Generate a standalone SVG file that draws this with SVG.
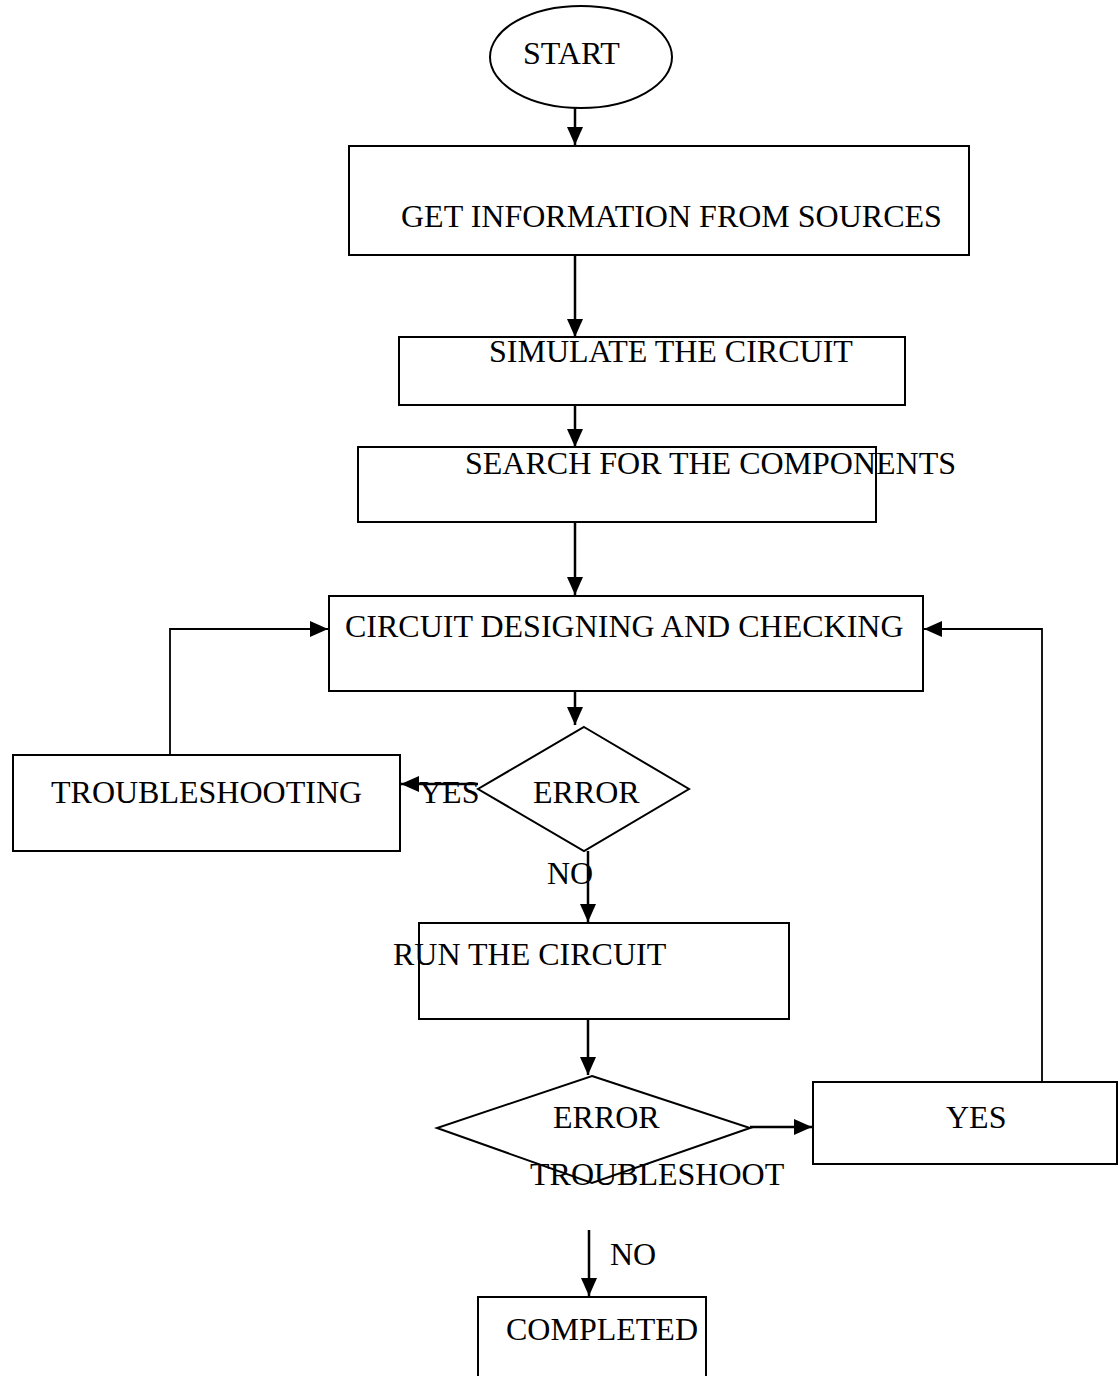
<svg xmlns="http://www.w3.org/2000/svg" width="1118" height="1376" viewBox="0 0 1118 1376">
<style>
.box{fill:#fff;stroke:#000;stroke-width:2}
.lbl{font-family:"Liberation Serif","Times New Roman",serif;font-size:32px;fill:#000}
.con{fill:none;stroke:#000;stroke-width:2.5}
.thin{fill:none;stroke:#000;stroke-width:1.8}
</style>
<defs>
<marker id="ah" markerUnits="userSpaceOnUse" markerWidth="20" markerHeight="20" refX="18" refY="10" orient="auto" overflow="visible">
<path d="M0,2 L18,10 L0,18 z" fill="#000"/>
</marker>
</defs>
<rect width="1118" height="1376" fill="#fff"/>
<g id="connectors">
<line class="con" x1="575" y1="108" x2="575" y2="145" marker-end="url(#ah)"/>
<line class="con" x1="575" y1="255" x2="575" y2="337" marker-end="url(#ah)"/>
<line class="con" x1="575" y1="405" x2="575" y2="447" marker-end="url(#ah)"/>
<line class="con" x1="575" y1="522" x2="575" y2="595" marker-end="url(#ah)"/>
<polyline class="thin" points="170,755 170,629 328,629" marker-end="url(#ah)"/>
<polyline class="thin" points="1042,1087 1042,629 924,629" marker-end="url(#ah)"/>
<line class="con" x1="575" y1="691" x2="575" y2="725" marker-end="url(#ah)"/>
<line class="con" x1="478" y1="784" x2="401" y2="784" marker-end="url(#ah)"/>
<line class="con" x1="588" y1="851" x2="588" y2="922" marker-end="url(#ah)"/>
<line class="con" x1="588" y1="1019" x2="588" y2="1075" marker-end="url(#ah)"/>
<line class="con" x1="750" y1="1127" x2="812" y2="1127" marker-end="url(#ah)"/>
<line class="con" x1="589" y1="1230" x2="589" y2="1296" marker-end="url(#ah)"/>
</g>
<g id="start">
<ellipse class="box" cx="581" cy="57" rx="91" ry="51"/>
<text class="lbl" x="523" y="64">START</text>
</g>
<g id="get-info">
<rect class="box" x="349" y="146" width="620" height="109"/>
<text class="lbl" x="401" y="227">GET INFORMATION FROM SOURCES</text>
</g>
<g id="simulate">
<rect class="box" x="399" y="337" width="506" height="68"/>
<text class="lbl" x="489" y="362">SIMULATE THE CIRCUIT</text>
</g>
<g id="search">
<rect class="box" x="358" y="447" width="518" height="75"/>
<text class="lbl" x="465" y="474">SEARCH FOR THE COMPONENTS</text>
</g>
<g id="design">
<rect class="box" x="329" y="596" width="594" height="95"/>
<text class="lbl" x="345" y="637">CIRCUIT DESIGNING AND CHECKING</text>
</g>
<g id="troubleshooting">
<rect class="box" x="13" y="755" width="387" height="96"/>
<text class="lbl" x="51" y="803">TROUBLESHOOTING</text>
</g>
<g id="error1">
<polygon class="box" points="584,727 689,789 584,851 478,789"/>
<text class="lbl" x="533" y="803">ERROR</text>
</g>
<g id="labels1">
<text class="lbl" x="419" y="803">YES</text>
<text class="lbl" x="547" y="884">NO</text>
</g>
<g id="run">
<rect class="box" x="419" y="923" width="370" height="96"/>
<text class="lbl" x="393" y="965">RUN THE CIRCUIT</text>
</g>
<g id="error2">
<polygon class="box" points="592,1076 750,1128 592,1183 437,1128"/>
<text class="lbl" x="553" y="1128">ERROR</text>
<text class="lbl" x="530" y="1185">TROUBLESHOOT</text>
</g>
<g id="yes-box">
<rect class="box" x="813" y="1082" width="304" height="82"/>
<text class="lbl" x="946" y="1128">YES</text>
</g>
<g id="labels2">
<text class="lbl" x="610" y="1265">NO</text>
</g>
<g id="completed">
<rect class="box" x="478" y="1297" width="228" height="90"/>
<text class="lbl" x="506" y="1340">COMPLETED</text>
</g>
</svg>
